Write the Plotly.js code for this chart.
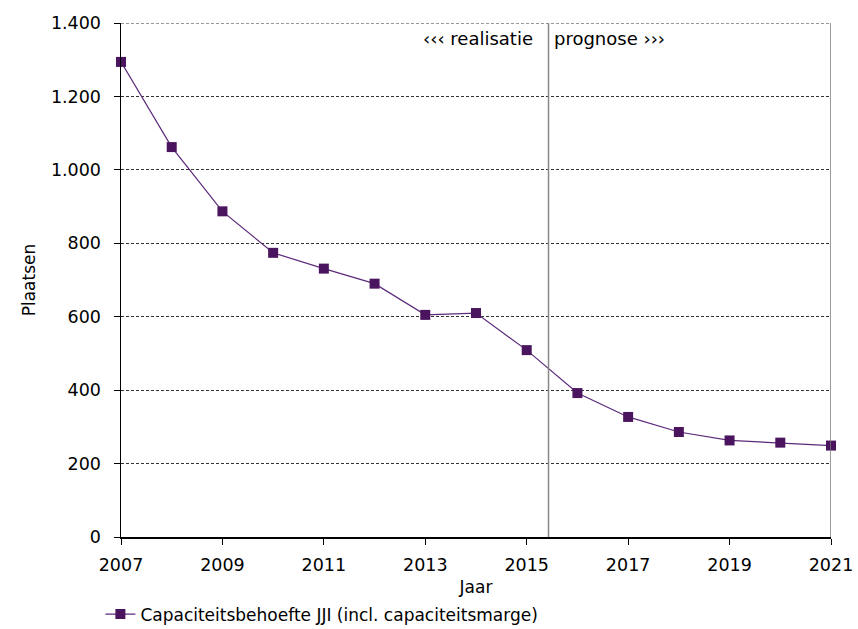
<!DOCTYPE html>
<html>
<head>
<meta charset="utf-8">
<script src="https://cdn.plot.ly/plotly-3.0.1.min.js"></script>
<style>html,body{margin:0;padding:0;background:#fff;}#chart{width:858px;height:629px;}</style>
</head>
<body>
<div id="chart"></div>
<script>
const years = [2007, 2008, 2009, 2010, 2011, 2012, 2013, 2014, 2015, 2016, 2017, 2018, 2019, 2020, 2021];
const places = [1294, 1062, 887, 774, 731, 690, 605, 610, 509, 392, 327, 286, 263, 257, 249];
const seriesName = 'Capaciteitsbehoefte JJI (incl. capaciteitsmarge)';
const yTickVals = [0, 200, 400, 600, 800, 1000, 1200, 1400];
const yTickText = ['0', '200', '400', '600', '800', '1.000', '1.200', '1.400'];
const xTickVals = [2007, 2009, 2011, 2013, 2015, 2017, 2019, 2021];
const splitYear = 2015.43;
const leftLabel = '‹‹‹ realisatie';
const rightLabel = 'prognose ›››';

const fam = 'DejaVu Sans, Verdana, sans-serif';
const tickFont = {family: fam, size: 17.5, color: '#000'};
const font = {family: fam, size: 17, color: '#000'};
const annFont = {family: fam, size: 18, color: '#000'};

const trace = {
  x: years, y: places, name: seriesName, type: 'scatter', mode: 'lines+markers',
  line: {color: '#5c2a7a', width: 1.2},
  marker: {symbol: 'square', size: 10, color: '#4a155e', line: {width: 0}},
  cliponaxis: false
};

const layout = {
  width: 858, height: 629,
  margin: {l: 121, r: 27, t: 23, b: 92, autoexpand: false},
  paper_bgcolor: '#fff', plot_bgcolor: '#fff',
  font: font,
  showlegend: true,
  legend: {orientation: 'h', xref: 'container', yref: 'container',
           x: 0.117, xanchor: 'left', y: 0.023, yanchor: 'middle',
           font: font, bgcolor: 'rgba(0,0,0,0)'},
  xaxis: {
    range: [2007, 2021], tickvals: xTickVals, ticktext: xTickVals.map(String),
    ticks: 'outside', ticklen: 6, tickwidth: 1, tickcolor: '#000', ticklabelstandoff: 5,
    showline: true, linecolor: '#000', linewidth: 1.5, showgrid: false, zeroline: false,
    automargin: false,
    title: {text: 'Jaar', font: font, standoff: 8}, tickfont: tickFont
  },
  yaxis: {
    range: [0, 1400], tickvals: yTickVals, ticktext: yTickText,
    ticks: 'outside', ticklen: 6, tickwidth: 1, tickcolor: '#000', ticklabelstandoff: 9,
    showline: true, linecolor: '#000', linewidth: 1.5, automargin: false,
    showgrid: true, gridcolor: '#333', gridwidth: 1, griddash: '3px,2px', zeroline: false,
    title: {text: 'Plaatsen', font: font, standoff: 11}, tickfont: tickFont
  },
  shapes: [
    {type: 'line', xref: 'x', yref: 'y', x0: 2007, x1: 2021, y0: 1400, y1: 1400,
     line: {color: '#333', width: 1, dash: '3px,2px'}},
    {type: 'line', xref: 'x', yref: 'y', x0: splitYear, x1: splitYear, y0: 0, y1: 1400,
     line: {color: '#888', width: 1.5}},
    {type: 'line', xref: 'x', yref: 'y', x0: 2021, x1: 2021, y0: 0, y1: 1400,
     line: {color: '#7a7a7a', width: 1.5}}
  ],
  annotations: [
    {xref: 'x', yref: 'y', x: splitYear, y: 1400, xanchor: 'right', yanchor: 'top',
     xshift: -14, yshift: -3, text: leftLabel, showarrow: false, font: annFont},
    {xref: 'x', yref: 'y', x: splitYear, y: 1400, xanchor: 'left', yanchor: 'top',
     xshift: 3, yshift: -3, text: rightLabel, showarrow: false, font: annFont}
  ]
};

Plotly.newPlot('chart', [trace], layout, {displayModeBar: false, staticPlot: true});
</script>
</body>
</html>
